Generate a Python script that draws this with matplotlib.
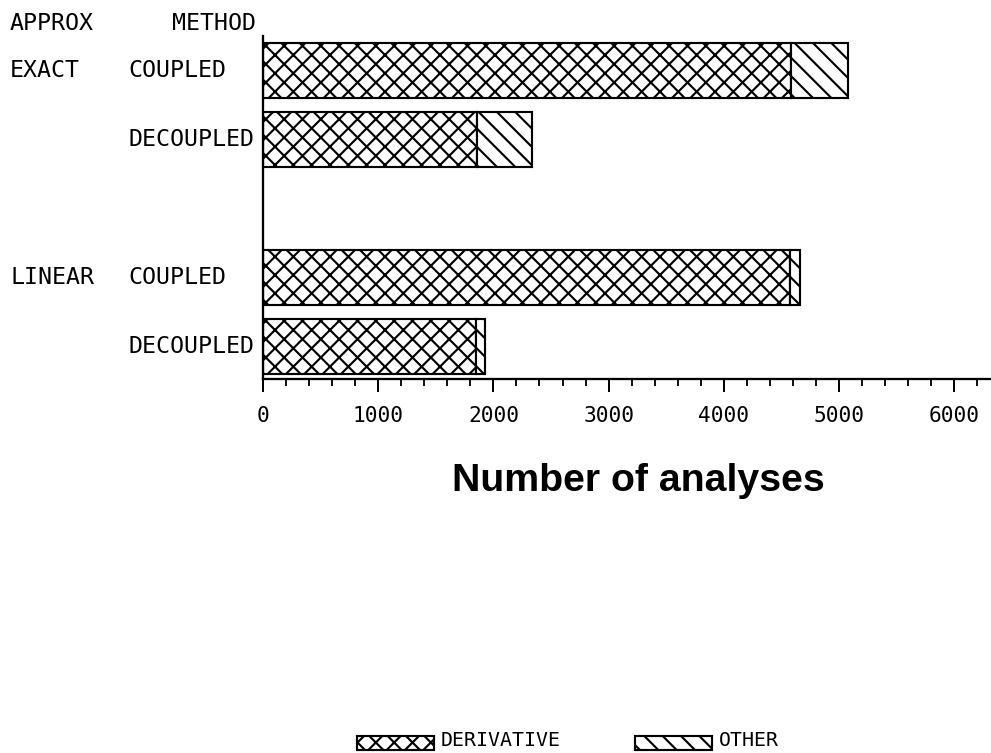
import matplotlib
matplotlib.use("Agg")
import matplotlib.pyplot as plt
from matplotlib.patches import Rectangle
from matplotlib.ticker import MultipleLocator

# analyses split by how the sensitivities were obtained
approx_labels = ["EXACT", "", "LINEAR", ""]
method_labels = ["COUPLED", "DECOUPLED", "COUPLED", "DECOUPLED"]
derivative = [4580, 1860, 4575, 1850]
other = [500, 475, 85, 75]
bar_rows = [0, 1, 3, 4]
xticks = [0, 1000, 2000, 3000, 4000, 5000, 6000]

W, H, DPI = 991, 753, 110
MONO = ["DejaVu Sans Mono"]

plt.rcParams["hatch.linewidth"] = 1.4
plt.rcParams["font.family"] = MONO

fig = plt.figure(figsize=(W / DPI, H / DPI), dpi=DPI)
ax = fig.add_axes([263 / W, 1 - 379 / H, 727 / W, 343 / H])

bar_kw = dict(height=0.79, color="white", edgecolor="black", linewidth=1.4)
ax.barh(bar_rows, derivative, hatch="xx", **bar_kw)
ax.barh(bar_rows, other, left=derivative, hatch="\\\\", **bar_kw)

ax.set_xlim(0, 6311)
ax.set_ylim(4.47, -0.5)
ax.set_xticks(xticks)
ax.xaxis.set_minor_locator(MultipleLocator(200))
ax.tick_params(axis="x", which="major", length=8.5, width=1.3, pad=9, labelsize=13.8)
ax.tick_params(axis="x", which="minor", length=4.5, width=1.2)
ax.set_yticks([])
for side in ("top", "right"):
    ax.spines[side].set_visible(False)
for side in ("left", "bottom"):
    ax.spines[side].set_linewidth(1.5)

label_kw = dict(xycoords=("figure fraction", "data"), va="center", ha="left",
                fontsize=15.2, family=MONO)
for row, approx, method in zip(bar_rows, approx_labels, method_labels):
    if approx:
        ax.annotate(approx, (10 / W, row), **label_kw)
    ax.annotate(method, (128 / W, row), **label_kw)

fig.text(10 / W, 1 - 23.5 / H, "APPROX", va="center", ha="left", fontsize=15.2)
fig.text(172 / W, 1 - 23.5 / H, "METHOD", va="center", ha="left", fontsize=15.2)

fig.text(638 / W, 1 - 481 / H, "Number of analyses", ha="center", va="center",
         fontsize=25.7, fontweight="bold", family=["Liberation Sans"])

# legend swatches along the bottom edge
for x0, x1, hatch, name in [(357, 434, "xx", "DERIVATIVE"), (635, 712, "\\\\", "OTHER")]:
    fig.patches.append(Rectangle((x0 / W, 1 - 750 / H), (x1 - x0) / W, 14 / H,
                                 transform=fig.transFigure, facecolor="white",
                                 edgecolor="black", hatch=hatch, linewidth=1.4))
    fig.text((x1 + 7) / W, 1 - 741 / H, name, ha="left", va="center", fontsize=13)

fig.savefig("out.png", dpi=DPI)
